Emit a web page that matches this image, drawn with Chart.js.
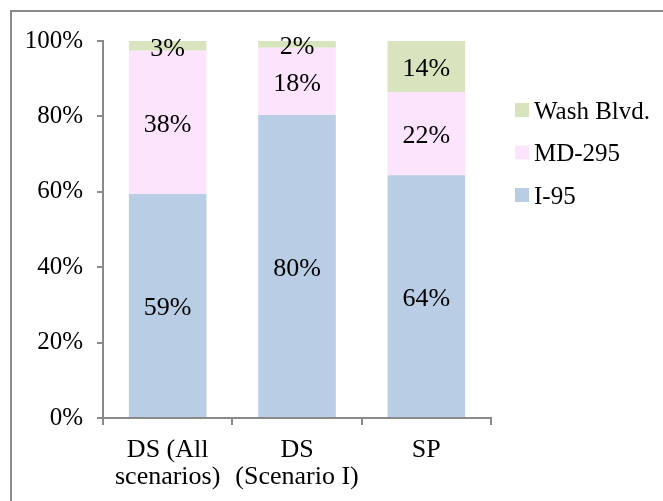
<!DOCTYPE html>
<html lang="en">
<head>
    <meta charset="UTF-8">
    <title>Stacked share</title>
    <script src="https://cdn.jsdelivr.net/npm/chart.js"></script>
    <style>
        body { margin: 0; overflow: hidden; background: #fff; }
        .frame {
            position: absolute; left: 10px; top: 10px;
            width: 800px; height: 600px;
            border: 2px solid #8a8a8a;
        }
        .chartBox { position: absolute; left: 0; top: 0; width: 663px; height: 501px; }
    </style>
</head>
<body>
    <div class="frame"></div>
    <div class="chartBox">
        <canvas id="chart"></canvas>
    </div>

    <script>
        const categories = [['DS (All', 'scenarios)'], ['DS', '(Scenario I)'], 'SP'];
        const i95 = [59.4, 80.4, 64.4];
        const md295 = [38.0, 17.8, 22.1];
        const washBlvd = [2.6, 1.8, 13.5];
        const yTicks = [0, 20, 40, 60, 80, 100];

        const serif = 'Liberation Serif, Times New Roman, serif';

        // % text in the middle of each segment
        const segLabels = {
            id: 'segLabels',
            afterDatasetsDraw(chart) {
                const ctx = chart.ctx;
                ctx.save();
                ctx.font = '26px ' + serif;
                ctx.fillStyle = '#000';
                ctx.textAlign = 'center';
                ctx.textBaseline = 'middle';
                chart.data.datasets.forEach((ds, i) => {
                    chart.getDatasetMeta(i).data.forEach((bar, j) => {
                        const p = bar.getProps(['x', 'y', 'base'], true);
                        ctx.fillText(Math.round(ds.data[j]) + '%', p.x, (p.y + p.base) / 2 + 3);
                    });
                });
                ctx.restore();
            }
        };

        // legend on the right, top entry = last series
        const sideLegend = {
            id: 'sideLegend',
            afterDraw(chart) {
                const ctx = chart.ctx;
                const x = chart.chartArea.right + 24;
                let y = 110;
                ctx.save();
                ctx.font = '25px ' + serif;
                ctx.textBaseline = 'middle';
                ctx.textAlign = 'left';
                chart.data.datasets.slice().reverse().forEach(ds => {
                    ctx.fillStyle = ds.backgroundColor;
                    ctx.fillRect(x, y - 7, 14, 14);
                    ctx.fillStyle = '#000';
                    ctx.fillText(ds.label, x + 19, y + 2);
                    y += 42.5;
                });
                ctx.restore();
            }
        };

        const data = {
            labels: categories,
            datasets: [
                { label: 'I-95', data: i95, backgroundColor: '#b9cde5' },
                { label: 'MD-295', data: md295, backgroundColor: '#fce5fc' },
                { label: 'Wash Blvd.', data: washBlvd, backgroundColor: '#d7e4bd' }
            ]
        };

        const config = {
            type: 'bar',
            data: data,
            options: {
                responsive: true,
                maintainAspectRatio: false,
                animation: false,
                layout: { padding: { top: 41, left: 0, right: 172, bottom: 0 } },
                datasets: { bar: { categoryPercentage: 1, barPercentage: 0.6 } },
                plugins: {
                    tooltip: { enabled: false },
                    legend: { display: false }
                },
                scales: {
                    x: {
                        stacked: true,
                        afterFit(s) { s.height = 83; },
                        grid: { display: true, drawOnChartArea: false, offset: true, tickLength: 7, color: '#8a8a8a', lineWidth: 2 },
                        border: { color: '#8a8a8a', width: 2 },
                        ticks: { color: '#000', padding: 12, maxRotation: 0, font: { family: serif, size: 26, lineHeight: 1.04 } }
                    },
                    y: {
                        stacked: true,
                        min: 0,
                        max: 100,
                        afterFit(s) { s.width = 103; },
                        afterBuildTicks(s) { s.ticks = yTicks.map(v => ({ value: v })); },
                        grid: { display: true, drawOnChartArea: false, tickLength: 6, color: '#8a8a8a', lineWidth: 2 },
                        border: { color: '#8a8a8a', width: 2 },
                        ticks: { color: '#000', padding: 14, font: { family: serif, size: 25 }, callback: v => v + '%' }
                    }
                }
            },
            plugins: [segLabels, sideLegend]
        };

        const myChart = new Chart(document.getElementById('chart'), config);
    </script>
</body>
</html>
